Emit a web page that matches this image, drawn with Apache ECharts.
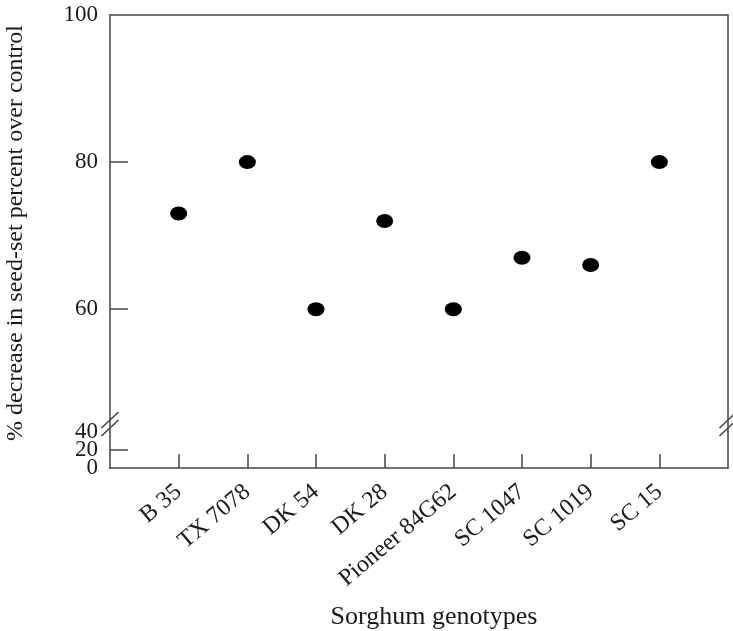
<!DOCTYPE html>
<html>
<head>
<meta charset="utf-8">
<script src="https://cdn.jsdelivr.net/npm/echarts@6/dist/echarts.min.js"></script>
<style>
  html, body { margin: 0; padding: 0; background: #fff; }
  #chart { width: 733px; height: 631px; }
</style>
</head>
<body>
<div id="chart"></div>
<script>
  // data
  const genotypes = ['B 35', 'TX 7078', 'DK 54', 'DK 28', 'Pioneer 84G62', 'SC 1047', 'SC 1019', 'SC 15'];
  const decrease = [73, 80, 60, 72, 60, 67, 66, 80];
  const upperTicks = [60, 80, 100];
  const lowerTicks = [0, 20, 40];
  const slots = genotypes.map((g, i) => i + 1);   // genotypes sit on 1..8 of a 0..9 axis

  const font = 'Liberation Serif';
  const ink = '#1a1a1a';
  const axisLine = { color: '#444', width: 1.5 };

  // upper panel runs from the break up to 100, lower panel is the squeezed 0-40 strip
  const upperMin = 43.3;
  const lowerMin = lowerTicks[0];
  const lowerMax = lowerTicks[lowerTicks.length - 1];

  const labelText = { margin: 12, color: ink, fontFamily: font, fontSize: 23 };
  const yLabel = Object.assign({ showMinLabel: true, showMaxLabel: true, hideOverlap: false }, labelText);
  const hidden = { axisTick: { show: false }, axisLabel: { show: false }, splitLine: { show: false } };

  const chart = echarts.init(document.getElementById('chart'));

  chart.setOption({
    animation: false,
    grid: [
      { left: 110, right: 5, top: 15, height: 417 },
      { left: 110, right: 5, top: 432, height: 37 }
    ],
    xAxis: [
      Object.assign({
        gridIndex: 0, type: 'value', min: 0, max: 9, position: 'top',
        axisLine: { show: true, onZero: false, lineStyle: axisLine }
      }, hidden),
      {
        gridIndex: 1, type: 'value', min: 0, max: 9, position: 'bottom',
        axisLine: { show: true, onZero: false, lineStyle: axisLine },
        axisTick: { show: true, inside: true, length: 14, lineStyle: axisLine, customValues: slots },
        axisLabel: {
          customValues: slots,
          rotate: 40,
          margin: 21,
          color: ink,
          fontFamily: font,
          fontSize: 24,
          formatter: v => genotypes[v - 1]
        },
        splitLine: { show: false },
        name: 'Sorghum genotypes',
        nameLocation: 'middle',
        nameGap: 136,
        nameTextStyle: { color: ink, fontFamily: font, fontSize: 26, padding: [0, 0, 0, 30] }
      }
    ],
    yAxis: [
      {
        gridIndex: 0, type: 'value', min: upperMin, max: 100,
        axisLine: { show: true, onZero: false, lineStyle: axisLine },
        axisTick: { show: true, inside: true, length: 18, lineStyle: axisLine, customValues: [60, 80] },
        axisLabel: Object.assign({ customValues: upperTicks }, yLabel),
        splitLine: { show: false }
      },
      Object.assign({
        gridIndex: 0, type: 'value', min: upperMin, max: 100, position: 'right',
        axisLine: { show: true, onZero: false, lineStyle: axisLine }
      }, hidden),
      // lower strip: end labels 0 and 40 on one axis ...
      {
        gridIndex: 1, type: 'value', min: lowerMin, max: lowerMax, position: 'left', offset: 0,
        axisLine: { show: false },
        axisTick: { show: false },
        axisLabel: Object.assign({ customValues: [lowerTicks[0], lowerTicks[2]] }, yLabel),
        splitLine: { show: false }
      },
      // ... and the middle label 20 (and the axis line) on a twin axis, so nothing gets culled
      {
        gridIndex: 1, type: 'value', min: lowerMin, max: lowerMax, position: 'left', offset: 0,
        axisLine: { show: true, onZero: false, lineStyle: axisLine },
        axisTick: { show: false },
        axisLabel: Object.assign({ customValues: [lowerTicks[1]] }, labelText),
        splitLine: { show: false }
      },
      Object.assign({
        gridIndex: 1, type: 'value', min: lowerMin, max: lowerMax, position: 'right',
        axisLine: { show: true, onZero: false, lineStyle: axisLine }
      }, hidden)
    ],
    series: [
      {
        type: 'scatter',
        xAxisIndex: 0,
        yAxisIndex: 0,
        symbol: 'circle',
        symbolSize: [17, 14],
        itemStyle: { color: '#000', opacity: 1 },
        data: slots.map((x, i) => [x, decrease[i]])
      }
    ]
  });

  // "//" break marks where the two panels meet, on both vertical edges
  const corner = chart.convertToPixel({ xAxisIndex: 1, yAxisIndex: 3 }, [0, lowerMax]);
  const cornerR = chart.convertToPixel({ xAxisIndex: 1, yAxisIndex: 3 }, [9, lowerMax]);
  const breakMarks = [];
  [corner[0], cornerR[0]].forEach(x => {
    [-12, -4].forEach(dy => {
      const cy = corner[1] + dy;
      breakMarks.push({
        type: 'line',
        shape: { x1: x - 8.5, y1: cy + 8, x2: x + 8.5, y2: cy - 8 },
        style: { stroke: '#444', lineWidth: 1.5 }
      });
    });
  });

  // inward tick at 20 on the squeezed strip (the axis drops it there)
  const tick20 = chart.convertToPixel({ xAxisIndex: 1, yAxisIndex: 3 }, [0, lowerTicks[1]]);
  breakMarks.push({
    type: 'line',
    shape: { x1: tick20[0], y1: tick20[1], x2: tick20[0] + 18, y2: tick20[1] },
    style: { stroke: '#444', lineWidth: 1.5 }
  });

  chart.setOption({
    graphic: breakMarks.concat([
      {
        type: 'text',
        x: 16,
        y: 233,
        rotation: Math.PI / 2,
        style: {
          text: '% decrease in seed-set percent over control',
          fill: ink,
          font: '24px "Liberation Serif"',
          align: 'center',
          verticalAlign: 'middle',
          textAlign: 'center',
          textVerticalAlign: 'middle'
        }
      }
    ])
  });

  window.addEventListener('resize', () => chart.resize());
</script>
</body>
</html>
